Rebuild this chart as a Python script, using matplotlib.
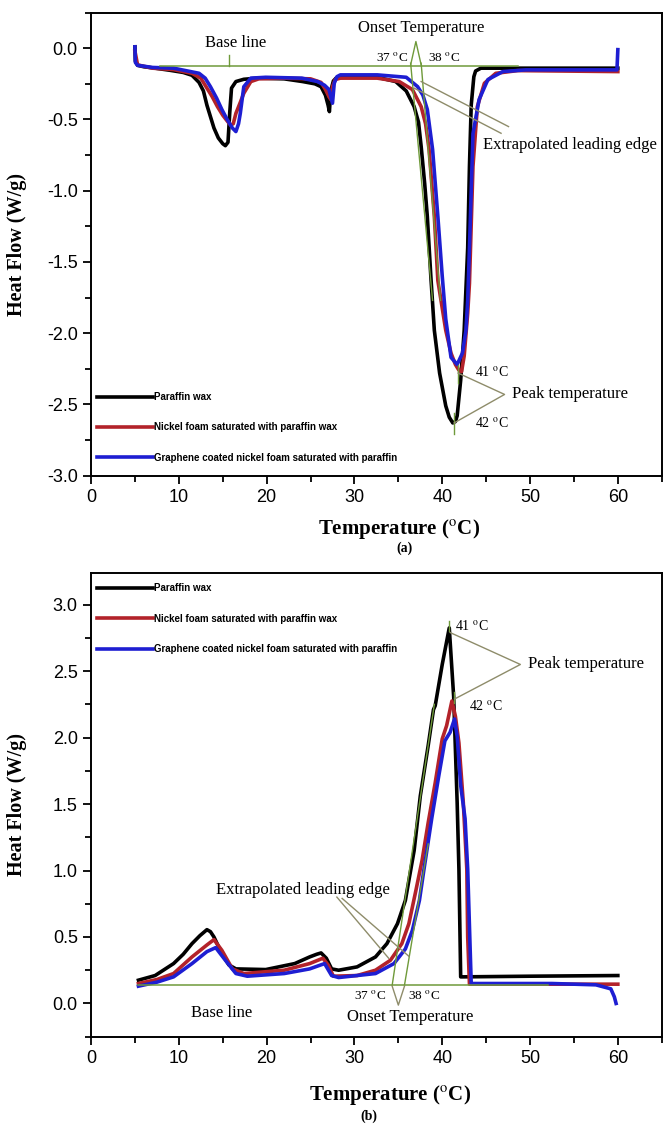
import matplotlib
matplotlib.use("Agg")
import matplotlib.pyplot as plt
from matplotlib.ticker import MultipleLocator

plt.rcParams['mathtext.fontset'] = 'stix'
plt.rcParams['axes.unicode_minus'] = False

# ---- (a) melting curves ----
a_black_x = [5.0, 5.05, 5.3, 6.0, 7.3, 9.0, 10.5, 11.5, 12.3, 12.8, 13.2, 13.6, 14.0, 14.5, 15.0, 15.3,
             15.6, 15.8, 16.0, 16.5, 17.4, 19.0, 22.0, 24.1, 25.5, 26.2, 26.7, 27.0, 27.15, 27.3, 27.6,
             27.9, 29.2, 32.6, 34.7, 35.9, 36.8, 37.3, 37.6, 38.0, 38.3, 38.7, 39.1, 39.7, 40.4, 40.8,
             41.2, 41.5, 41.7, 42.1, 42.5, 42.9, 43.1, 43.3, 43.6, 43.8, 44.4, 50.0, 55.0, 60.0]
a_black_y = [0.01, -0.09, -0.12, -0.13, -0.14, -0.155, -0.17, -0.19, -0.24, -0.30, -0.40, -0.48, -0.56,
             -0.63, -0.67, -0.684, -0.66, -0.45, -0.28, -0.234, -0.218, -0.21, -0.215, -0.234, -0.25,
             -0.27, -0.33, -0.40, -0.445, -0.30, -0.23, -0.21, -0.20, -0.204, -0.234, -0.30, -0.41,
             -0.52, -0.69, -0.95, -1.18, -1.60, -1.98, -2.28, -2.51, -2.59, -2.63, -2.62, -2.58, -2.33,
             -1.98, -1.40, -0.83, -0.40, -0.20, -0.16, -0.14, -0.14, -0.14, -0.14]

a_red_x = [5.0, 5.3, 7.0, 9.4, 11.5, 12.5, 13.2, 13.8, 14.4, 15.0, 15.5, 15.9, 16.2, 16.5, 17.0, 17.4,
           18.2, 19.1, 22.0, 25.0, 26.2, 26.7, 27.1, 27.3, 27.5, 27.8, 28.4, 32.6, 35.1, 36.6, 37.6,
           38.1, 38.5, 39.1, 39.5, 40.4, 41.0, 41.5, 41.9, 42.2, 42.5, 42.9, 43.1, 43.5, 44.0, 44.8,
           46.1, 48.6, 60.0]
a_red_y = [-0.02, -0.117, -0.14, -0.15, -0.176, -0.21, -0.28, -0.34, -0.41, -0.47, -0.51, -0.54, -0.53,
           -0.457, -0.38, -0.316, -0.234, -0.215, -0.21, -0.215, -0.24, -0.29, -0.34, -0.36, -0.27,
           -0.22, -0.21, -0.21, -0.234, -0.29, -0.41, -0.53, -0.71, -1.18, -1.63, -1.98, -2.14, -2.22,
           -2.26, -2.27, -2.16, -1.86, -1.65, -0.83, -0.41, -0.246, -0.176, -0.157, -0.164]

a_blue_x = [5.0, 5.05, 5.3, 7.0, 9.4, 12.3, 13.0, 13.6, 14.3, 14.9, 15.5, 16.1, 16.5, 16.8, 17.0, 17.4,
            18.2, 19.9, 24.0, 25.8, 26.6, 27.1, 27.5, 27.7, 28.0, 28.4, 32.6, 35.9, 37.2, 37.8, 38.3,
            38.9, 39.5, 40.0, 40.4, 41.0, 41.7, 42.3, 42.7, 42.9, 43.1, 43.5, 44.2, 45.2, 46.9, 49.5,
            59.9, 60.0]
a_blue_y = [0.01, -0.10, -0.12, -0.135, -0.14, -0.176, -0.21, -0.27, -0.35, -0.43, -0.50, -0.56, -0.585,
            -0.53, -0.457, -0.27, -0.21, -0.204, -0.21, -0.234, -0.26, -0.29, -0.386, -0.246, -0.20,
            -0.187, -0.187, -0.204, -0.27, -0.33, -0.43, -0.71, -1.18, -1.60, -1.90, -2.17, -2.22,
            -2.14, -1.98, -1.77, -1.40, -0.60, -0.36, -0.22, -0.164, -0.152, -0.152, -0.01]

# ---- (b) solidification curves ----
b_black_x = [5.4, 7.3, 9.4, 10.5, 11.5, 12.4, 13.2, 13.6, 14.0, 14.9, 15.7, 16.5, 19.9, 23.2, 24.9,
             25.7, 26.2, 26.8, 27.4, 28.2, 30.3, 32.4, 33.7, 34.9, 35.8, 36.4, 36.8, 37.5, 38.4, 39.0,
             39.2, 40.0, 40.8, 41.3, 41.7, 41.9, 42.1, 42.3, 50.0, 60.0]
b_black_y = [0.175, 0.21, 0.30, 0.37, 0.45, 0.51, 0.555, 0.54, 0.50, 0.375, 0.29, 0.26, 0.255, 0.30,
             0.35, 0.37, 0.38, 0.34, 0.26, 0.25, 0.275, 0.35, 0.45, 0.60, 0.775, 1.0, 1.15, 1.56, 1.94,
             2.21, 2.24, 2.55, 2.825, 2.31, 1.51, 1.01, 0.2, 0.2, 0.205, 0.21]

b_red_x = [5.4, 7.5, 9.4, 11.5, 13.2, 14.0, 14.9, 16.1, 17.4, 22.0, 24.9, 26.4, 27.0, 27.6, 30.3, 32.4,
           34.1, 35.4, 36.2, 37.0, 37.7, 38.4, 39.2, 40.0, 40.5, 41.1, 41.5, 41.9, 42.4, 42.8, 42.9,
           43.1, 50.0, 60.0]
b_red_y = [0.15, 0.18, 0.225, 0.35, 0.44, 0.48, 0.40, 0.26, 0.225, 0.25, 0.30, 0.34, 0.29, 0.205, 0.21,
           0.25, 0.325, 0.45, 0.60, 0.85, 1.075, 1.36, 1.66, 1.99, 2.09, 2.275, 2.16, 1.96, 1.51, 1.01,
           0.5, 0.145, 0.145, 0.145]

b_blue_x = [5.4, 7.5, 9.4, 11.5, 13.2, 14.2, 15.3, 16.5, 17.8, 22.0, 24.9, 26.6, 27.4, 28.2, 32.4,
            34.5, 35.8, 36.6, 37.4, 37.9, 38.8, 39.6, 40.3, 40.9, 41.4, 41.7, 42.1, 42.6, 42.9, 43.3,
            52.5, 57.5, 59.2, 59.6, 59.8]
b_blue_y = [0.13, 0.16, 0.2, 0.3, 0.39, 0.42, 0.325, 0.225, 0.205, 0.225, 0.26, 0.30, 0.21, 0.195,
            0.225, 0.30, 0.41, 0.55, 0.775, 1.0, 1.39, 1.71, 1.975, 2.04, 2.14, 2.01, 1.64, 1.39, 1.01,
            0.15, 0.15, 0.14, 0.11, 0.05, 0.0]

labels = ['Paraffin wax',
          'Nickel foam saturated with paraffin wax',
          'Graphene coated nickel foam saturated with paraffin']
colors = ['#000000', '#b3222a', '#1e1ed2']

green = '#6f9a3a'
grey = '#8e8c6a'
deg = r'$^{\mathrm{o}}$C'

serif = 'Liberation Serif'
sans = 'Liberation Sans'


def style_axes(ax, ylim, ymajor):
    ax.set_xlim(0, 65)
    ax.set_ylim(*ylim)
    ax.xaxis.set_major_locator(MultipleLocator(10))
    ax.xaxis.set_minor_locator(MultipleLocator(5))
    ax.yaxis.set_major_locator(MultipleLocator(ymajor))
    ax.yaxis.set_minor_locator(MultipleLocator(ymajor / 2))
    ax.tick_params(which='major', direction='out', length=6, width=1.3, labelsize=13)
    ax.tick_params(which='minor', direction='out', length=4, width=1.3)
    for lab in ax.get_xticklabels() + ax.get_yticklabels():
        lab.set_fontfamily(sans)
    for sp in ax.spines.values():
        sp.set_linewidth(1.4)
    ax.set_ylabel('Heat Flow (W/g)', fontfamily=serif, fontweight='bold', fontsize=14.5)
    ax.yaxis.set_label_coords(-0.112, 0.5)
    ax.set_xlabel('Temperature (' + deg + ')', fontfamily=serif, fontweight='bold', fontsize=15)


fig = plt.figure(figsize=(6.63, 11.25), dpi=100)
ax1 = fig.add_axes([0.1373, 0.5772, 0.8608, 0.4116])
ax2 = fig.add_axes([0.1373, 0.0785, 0.8608, 0.4124])

# ---------------- panel (a) ----------------
for xs, ys, c, lab in zip([a_black_x, a_red_x, a_blue_x], [a_black_y, a_red_y, a_blue_y], colors, labels):
    ax1.plot(xs, ys, color=c, lw=2.6, label=lab, solid_joinstyle='round')

style_axes(ax1, (-3.0, 0.25), 0.5)
ax1.xaxis.set_label_coords(0.54, -0.09)

# base line and onset construction
ax1.plot([7.9, 48.6], [-0.124, -0.124], color=green, lw=1.1)
ax1.plot([15.7, 15.7], [-0.124, -0.05], color=green, lw=1.0)
ax1.text(16.5, 0.035, 'Base line', fontfamily=serif, fontsize=12, ha='center', va='center')
ax1.plot([36.4, 38.9], [-0.105, -1.77], color=green, lw=1.0)
ax1.plot([37.6, 39.8], [-0.105, -1.77], color=green, lw=1.0)
ax1.plot([36.4, 37.0, 37.6], [-0.117, 0.047, -0.117], color=green, lw=1.0)
ax1.text(37.55, 0.14, 'Onset Temperature', fontfamily=serif, fontsize=12, ha='center', va='center')
ax1.text(34.3, -0.063, '37 ' + deg, fontfamily=serif, fontsize=9.5, ha='center', va='center')
ax1.text(40.2, -0.063, '38 ' + deg, fontfamily=serif, fontsize=9.5, ha='center', va='center')
ax1.plot([37.6, 47.55], [-0.234, -0.55], color=grey, lw=1.0)
ax1.plot([36.8, 46.7], [-0.28, -0.597], color=grey, lw=1.0)
ax1.text(44.6, -0.68, 'Extrapolated leading edge', fontfamily=serif, fontsize=12, ha='left', va='center')

# peak construction
ax1.plot([41.8, 41.8], [-2.22, -2.35], color=green, lw=1.0)
ax1.plot([41.35, 41.35], [-2.56, -2.71], color=green, lw=1.0)
ax1.plot([41.8, 47.1, 41.35], [-2.28, -2.43, -2.63], color=grey, lw=1.0)
ax1.text(45.65, -2.27, '41 ' + deg, fontfamily=serif, fontsize=10, ha='center', va='center')
ax1.text(45.65, -2.63, '42 ' + deg, fontfamily=serif, fontsize=10, ha='center', va='center')
ax1.text(48.0, -2.43, 'Peak temperature', fontfamily=serif, fontsize=12, ha='left', va='center')

leg1 = ax1.legend(loc='lower left', bbox_to_anchor=(0.0, 0.015), frameon=False, handlelength=5.8,
                  handletextpad=0.1, labelspacing=2.1, borderaxespad=0.2,
                  prop={'family': sans, 'weight': 'bold', 'size': 7})

fig.text(0.61, 0.513, '(a)', fontfamily=serif, fontweight='bold', fontsize=10, ha='center', va='center')

# ---------------- panel (b) ----------------
for xs, ys, c, lab in zip([b_black_x, b_red_x, b_blue_x], [b_black_y, b_red_y, b_blue_y], colors, labels):
    ax2.plot(xs, ys, color=c, lw=2.6, label=lab, solid_joinstyle='round')

style_axes(ax2, (-0.25, 3.24), 0.5)
ax2.xaxis.set_label_coords(0.523, -0.1)

ax2.plot([5.4, 52.0], [0.1375, 0.1375], color=green, lw=1.1)
ax2.text(14.85, -0.075, 'Base line', fontfamily=serif, fontsize=12, ha='center', va='center')
ax2.plot([34.3, 39.1], [0.1375, 2.25], color=green, lw=1.0)
ax2.plot([35.7, 38.4], [0.1375, 1.2], color=green, lw=1.0)
ax2.plot([34.3, 35.0, 35.7], [0.13, -0.0125, 0.13], color=grey, lw=1.0)
ax2.text(31.8, 0.0625, '37 ' + deg, fontfamily=serif, fontsize=9.5, ha='center', va='center')
ax2.text(37.9, 0.0625, '38 ' + deg, fontfamily=serif, fontsize=9.5, ha='center', va='center')
ax2.text(36.3, -0.1, 'Onset Temperature', fontfamily=serif, fontsize=12, ha='center', va='center')
ax2.plot([28.0, 33.9], [0.80, 0.34], color=grey, lw=1.0)
ax2.plot([28.6, 36.2], [0.79, 0.355], color=grey, lw=1.0)
ax2.text(24.1, 0.855, 'Extrapolated leading edge', fontfamily=serif, fontsize=12, ha='center', va='center')

ax2.plot([40.8, 40.8], [2.80, 2.875], color=green, lw=1.0)
ax2.plot([41.3, 41.3], [2.26, 2.34], color=green, lw=1.0)
ax2.plot([40.9, 48.9, 41.4], [2.79, 2.55, 2.29], color=grey, lw=1.0)
ax2.text(41.5, 2.84, '41 ' + deg, fontfamily=serif, fontsize=10, ha='left', va='center')
ax2.text(43.0, 2.24, '42 ' + deg, fontfamily=serif, fontsize=10, ha='left', va='center')
ax2.text(49.8, 2.55, 'Peak temperature', fontfamily=serif, fontsize=12, ha='left', va='center')

leg2 = ax2.legend(loc='upper left', bbox_to_anchor=(0.0, 0.99), frameon=False, handlelength=5.8,
                  handletextpad=0.1, labelspacing=2.1, borderaxespad=0.2,
                  prop={'family': sans, 'weight': 'bold', 'size': 7})

fig.text(0.557, 0.008, '(b)', fontfamily=serif, fontweight='bold', fontsize=10, ha='center', va='center')

fig.savefig('out.png', dpi=100)
